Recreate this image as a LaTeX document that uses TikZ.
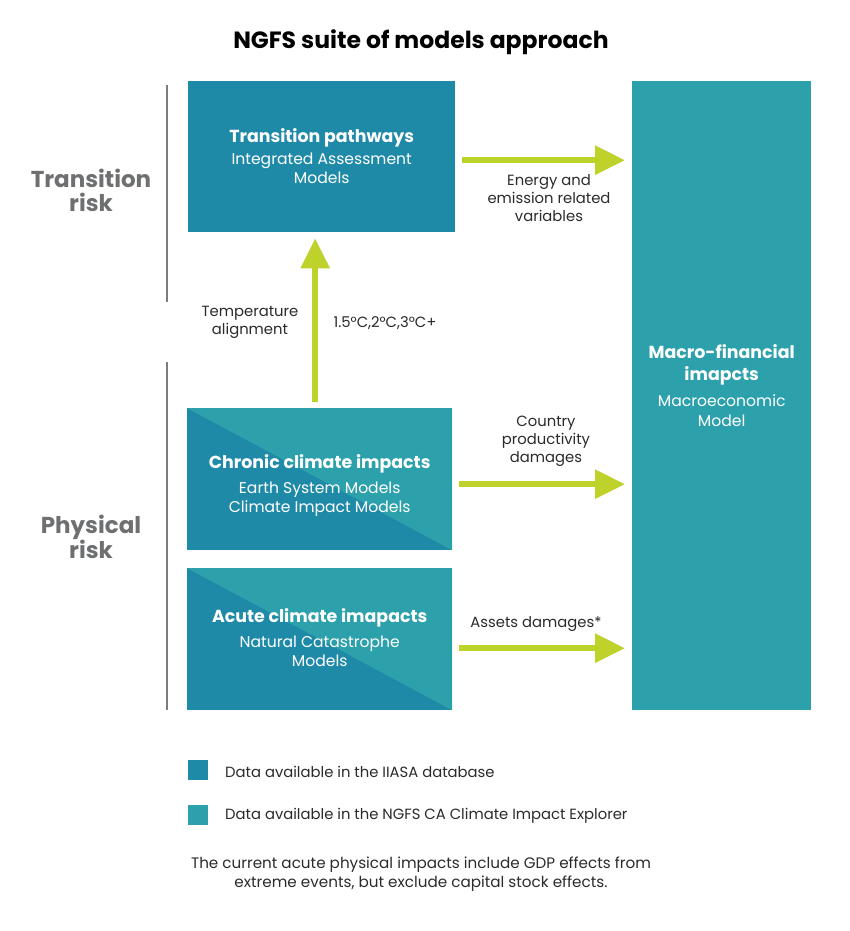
\documentclass[tikz,border=0pt]{standalone}
\usepackage{fontspec}
\setmainfont{Poppins}
\usetikzlibrary{arrows.meta,calc}
\definecolor{boxdark}{HTML}{1F8AA8}
\definecolor{boxteal}{HTML}{2CA0AB}
\definecolor{arrowc}{HTML}{BFD12B}
\definecolor{riskgray}{HTML}{6E6F71}
\definecolor{txt}{HTML}{2B2B2B}
\begin{document}
\begin{tikzpicture}[x=1pt,y=-1pt,
  box/.style={inner sep=0pt, draw=none, anchor=north west},
  splitbox/.style={box, fill=boxdark, path picture={
     \fill[boxteal] (path picture bounding box.north west) -- (path picture bounding box.north east) -- (path picture bounding box.south east) -- cycle;}},
  boxtitle/.style={text=white, font=\fontsize{17.4}{20}\selectfont\bfseries, align=center, inner sep=0pt},
  boxsub/.style={text=white, font=\fontsize{15.6}{19}\selectfont, align=center, inner sep=0pt},
  lbl/.style={text=txt, font=\fontsize{14.8}{18}\selectfont, align=center, inner sep=0pt},
  risk/.style={text=riskgray, font=\fontsize{23}{24}\selectfont\bfseries, align=center, inner sep=0pt},
  bigarrow/.style={draw=arrowc, line width=6pt, -{Triangle[width=28pt,length=30pt]}, shorten <=7pt, shorten >=7pt},
  riskline/.style={draw=riskgray!90, line width=2.5pt},
  legsq/.style={minimum size=20pt, inner sep=0pt, anchor=north west}
]
\useasboundingbox[fill=white] (0,0) rectangle (850,931);

% title
\node[text=black, font=\fontsize{23.5}{26}\selectfont\bfseries, inner sep=0pt] (title) at (421,42.5) {NGFS suite of models approach};

% risk brackets
\coordinate (t1) at (167,85); \coordinate (t2) at (167,302);
\coordinate (p1) at (167,362); \coordinate (p2) at (167,710);
\draw[riskline] (t1) -- (t2);
\draw[riskline] (p1) -- (p2);
\node[risk] (trisk) at (91,190) {Transition\\risk};
\node[risk] (prisk) at (91,537) {Physical\\risk};

% boxes
\node[box, fill=boxdark, minimum width=267pt, minimum height=151pt] (trans) at (188,81) {};
\node[splitbox, minimum width=265pt, minimum height=142pt] (chronic) at (187,408) {};
\node[splitbox, minimum width=265pt, minimum height=142pt] (acute) at (187,568) {};
\node[box, fill=boxteal, minimum width=179pt, minimum height=629pt] (macro) at (632,81) {};

% box texts
\node[boxtitle] (transT) at ($(trans.north)+(0,57)$) {Transition pathways};
\node[boxsub] (transS) at ($(trans.north)+(0,87.5)$) {Integrated Assessment\\Models};
\node[boxtitle] (chronT) at ($(chronic.north)+(0,56)$) {Chronic climate impacts};
\node[boxsub] (chronS) at ($(chronic.north)+(0,91.5)$) {Earth System Models\\Climate Impact Models};
\node[boxtitle] (acuteT) at ($(acute.north)+(0,50)$) {Acute climate imapacts};
\node[boxsub] (acuteS) at ($(acute.north)+(0,83.5)$) {Natural Catastrophe\\Models};
\node[boxtitle, font=\fontsize{17.4}{22}\selectfont\bfseries] (macroT) at ($(macro.north)+(0,284)$) {Macro-financial\\imapcts};
\node[boxsub, font=\fontsize{15.6}{20}\selectfont] (macroS) at ($(macro.north)+(0,330)$) {Macroeconomic\\Model};

% arrows
\draw[bigarrow] ([yshift=-3.5pt]trans.east) -- ([yshift=-3.5pt]trans.east -| macro.west);
\draw[bigarrow] ([yshift=-5pt]chronic.east) -- ([yshift=-5pt]chronic.east -| macro.west);
\draw[bigarrow] ([yshift=-9pt]acute.east) -- ([yshift=-9pt]acute.east -| macro.west);
\draw[bigarrow, shorten <=6pt, shorten >=6pt] ([xshift=-4.5pt]chronic.north) -- ([xshift=-4.5pt]chronic.north |- trans.south);

% arrow labels
\node[lbl] (l1) at (549,198.5) {Energy and\\emission related\\variables};
\node[lbl] (l2) at (546,441.5) {Country\\productivity\\damages};
\node[lbl] (l3) at (536,624.5) {Assets damages*};
\node[lbl] (l4) at (250,322.5) {Temperature\\alignment};
\node[lbl] (l5) at (385,323.5) {1.5\textdegree C,2\textdegree C,3\textdegree C+};

% legend
\node[legsq, fill=boxdark] (sq1) at (188,760) {};
\node[legsq, fill=boxteal] (sq2) at (188,805) {};
\node[lbl, anchor=west] (lg1) at (225,772) {Data available in the IIASA database};
\node[lbl, anchor=west] (lg2) at (225,816) {Data available in the NGFS CA Climate Impact Explorer};

% footer
\node[lbl, font=\fontsize{15.2}{19}\selectfont] (foot) at (421,874) {The current acute physical impacts include GDP effects from\\extreme events, but exclude capital stock effects.};
\end{tikzpicture}
\end{document}
